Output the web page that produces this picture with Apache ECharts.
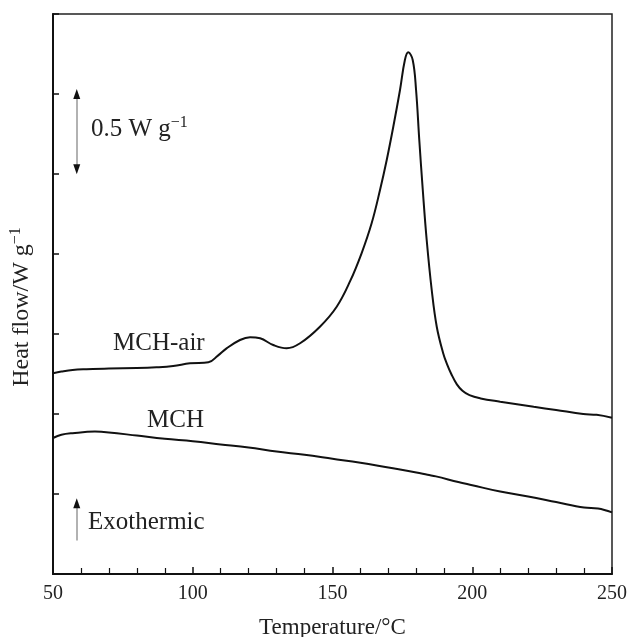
<!DOCTYPE html>
<html>
<head>
<meta charset="utf-8">
<script src="https://cdn.jsdelivr.net/npm/echarts@6/dist/echarts.min.js"></script>
<style>
html,body{margin:0;padding:0;background:#fff;}
#chart{width:630px;height:637px;}
</style>
</head>
<body>
<div id="chart"></div>
<script>
// temperature (°C) and heat flow (arbitrary offset, 1 unit = one y tick = 0.5 W/g)
var airT = [50,53,57,62,70,80,87,93,99,105.6,109,112.1,116.9,120.5,124.1,128.8,133.6,138.4,145.5,151.5,156.3,160.4,164,167,169.4,171.75,174.15,175.9,177.1,178.7,179.9,181.05,182.3,183.7,185.5,187.3,189.6,191,192.5,194.5,196.5,199,203,210,222,230,239.7,244.5,250];
var airY = [2.51,2.53,2.55,2.56,2.57,2.575,2.584,2.60,2.634,2.646,2.73,2.82,2.925,2.96,2.946,2.8625,2.821,2.884,3.091,3.341,3.66,4.009,4.384,4.80,5.175,5.59,6.05,6.425,6.521,6.425,6.05,5.425,4.80,4.175,3.55,3.091,2.759,2.62,2.50,2.37,2.29,2.235,2.195,2.154,2.09,2.05,2.0,1.99,1.954];
var mchT = [50,53,57,65,70,80,90,100,110,120,130,140,150,160,170,180,184,187,195,200,210,220,230,240,245,250];
var mchY = [1.70,1.74,1.76,1.78,1.77,1.73,1.69,1.66,1.62,1.58,1.53,1.49,1.44,1.39,1.33,1.27,1.24,1.22,1.15,1.11,1.03,0.97,0.90,0.83,0.82,0.77];
var xTicks = [50,100,150,200,250];
// scale bar and exothermic arrow (x position, y ends)
var barX = 58.5;
var scaleBar = [6.0, 5.06];
var exoArrow = [0.42, 0.885];

function pairs(xs, ys){
	var out=[];
	for(var i=0;i<xs.length;i++){ out.push([xs[i],ys[i]]); }
	return out;
}

var font = 'Liberation Serif, Times New Roman, serif';
var myChart = echarts.init(document.getElementById('chart'));
var option = {
	animation:false,
	backgroundColor:'#fff',
	grid:{left:53,top:14,right:18,bottom:63,show:true,borderColor:'#222',borderWidth:1.5,
		containLabel:false,outerBoundsMode:'none'},
	xAxis:{
		type:'value',min:50,max:250,interval:50,
		name:'Temperature/°C',nameLocation:'middle',nameGap:42,
		nameTextStyle:{fontFamily:font,fontSize:23,color:'#222'},
		axisLine:{lineStyle:{color:'#111',width:2}},
		axisTick:{inside:true,length:7,lineStyle:{color:'#111',width:1.5}},
		minorTick:{show:true,splitNumber:5,length:6,lineStyle:{color:'#111',width:1.2}},
		splitLine:{show:false},
		axisLabel:{fontFamily:font,fontSize:20,color:'#222',margin:10,
			formatter:function(v){ return xTicks.indexOf(v)>=0 ? String(v) : ''; }}
	},
	yAxis:{
		type:'value',min:0,max:7,interval:1,
		axisLine:{show:true,lineStyle:{color:'#111',width:2}},
		axisTick:{show:true,inside:true,length:6,lineStyle:{color:'#111',width:1.5}},
		axisLabel:{show:false},
		splitLine:{show:false}
	},
	graphic:[
		{type:'text',x:22,y:307,rotation:Math.PI/2,
			style:{text:'Heat flow/W g{s|−1}',fontFamily:font,fontSize:24,fill:'#222',align:'center',verticalAlign:'middle',
				rich:{s:{fontFamily:font,fontSize:16,fill:'#222',padding:[0,0,12,0]}}}},
		{type:'text',x:91,y:129,
			style:{text:'0.5 W g{s|−1}',fontFamily:font,fontSize:25,fill:'#222',verticalAlign:'middle',
				rich:{s:{fontFamily:font,fontSize:16,fill:'#222',padding:[0,0,12,0]}}}},
		{type:'text',x:113,y:343,style:{text:'MCH-air',fontFamily:font,fontSize:25,fill:'#222',verticalAlign:'middle'}},
		{type:'text',x:147,y:420,style:{text:'MCH',fontFamily:font,fontSize:25,fill:'#222',verticalAlign:'middle'}},
		{type:'text',x:88,y:522,style:{text:'Exothermic',fontFamily:font,fontSize:25,fill:'#222',verticalAlign:'middle'}}
	],
	series:[
		{
			name:'MCH-air',type:'line',data:pairs(airT,airY),smooth:0.4,showSymbol:false,
			lineStyle:{color:'#111',width:2},
			markLine:{
				silent:true,symbol:['none','none'],
				label:{show:false},
				lineStyle:{color:'#999',width:1.5,type:'solid'},
				data:[[{coord:[barX,scaleBar[0]]},{coord:[barX,scaleBar[1]]}]]
			},
			markPoint:{
				silent:true,symbol:'triangle',symbolSize:[7,10],
				itemStyle:{color:'#111'},label:{show:false},
				data:[{coord:[barX,scaleBar[0]]},{coord:[barX,scaleBar[1]],symbolRotate:180}]
			}
		},
		{
			name:'MCH',type:'line',data:pairs(mchT,mchY),smooth:0.4,showSymbol:false,
			lineStyle:{color:'#111',width:2},
			markLine:{
				silent:true,symbol:['none','none'],
				label:{show:false},
				lineStyle:{color:'#999',width:1.5,type:'solid'},
				data:[[{coord:[barX,exoArrow[0]]},{coord:[barX,exoArrow[1]]}]]
			},
			markPoint:{
				silent:true,symbol:'triangle',symbolSize:[7,10],
				itemStyle:{color:'#111'},label:{show:false},
				data:[{coord:[barX,exoArrow[1]]}]
			}
		}
	]
};
myChart.setOption(option);
</script>
</body>
</html>
